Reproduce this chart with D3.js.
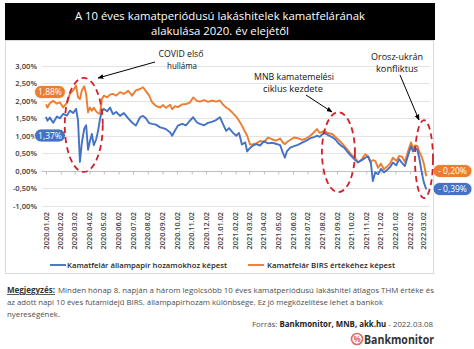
<!DOCTYPE html>
<html><head><meta charset="utf-8">
<script src="https://cdn.jsdelivr.net/npm/d3@7"></script>
<style>body{margin:0;background:#fff}svg{display:block}</style>
</head><body><svg id="c" width="474" height="349"></svg>
<script>
const dates = ["2020-01-02","2020-01-05","2020-01-10","2020-01-17","2020-01-25","2020-01-31","2020-02-07","2020-02-15","2020-02-21","2020-02-28",
"2020-03-05","2020-03-09","2020-03-13","2020-03-17","2020-03-22","2020-03-26","2020-03-30","2020-04-03","2020-04-07","2020-04-11",
"2020-04-16","2020-04-20","2020-04-24","2020-04-28","2020-05-02","2020-05-09","2020-05-15","2020-05-21","2020-05-28","2020-06-05",
"2020-06-13","2020-06-22","2020-06-30","2020-07-08","2020-07-17","2020-07-23","2020-07-29","2020-08-05","2020-08-11","2020-08-19",
"2020-08-28","2020-09-03","2020-09-09","2020-09-18","2020-09-22","2020-09-28","2020-10-04","2020-10-13","2020-10-21","2020-10-29",
"2020-11-05","2020-11-13","2020-11-19","2020-11-28","2020-12-06","2020-12-14","2020-12-23","2020-12-31","2021-01-06","2021-01-13",
"2021-01-19","2021-01-27","2021-02-03","2021-02-09","2021-02-15","2021-02-22","2021-02-26","2021-03-04","2021-03-10","2021-03-17",
"2021-03-25","2021-04-02","2021-04-11","2021-04-19","2021-04-27","2021-05-06","2021-05-12","2021-05-16","2021-05-20","2021-05-27",
"2021-06-04","2021-06-12","2021-06-21","2021-06-29","2021-07-08","2021-07-16","2021-07-22","2021-07-28","2021-08-06","2021-08-14",
"2021-08-23","2021-08-29","2021-09-04","2021-09-10","2021-09-17","2021-09-25","2021-10-03","2021-10-10","2021-10-16","2021-10-24",
"2021-10-31","2021-11-06","2021-11-12","2021-11-16","2021-11-21","2021-11-27","2021-12-03","2021-12-09","2021-12-16","2021-12-22",
"2021-12-28","2022-01-04","2022-01-10","2022-01-16","2022-01-22","2022-01-29","2022-02-04","2022-02-08","2022-02-12","2022-02-17",
"2022-02-21","2022-02-27","2022-03-03","2022-03-08"];
const blueValues = [1.54,1.43,1.52,1.37,1.55,1.50,1.63,1.58,1.72,1.65,
1.77,1.44,0.25,0.80,1.20,1.30,0.60,0.85,1.05,0.73,
0.90,1.14,1.48,1.70,1.77,1.70,1.81,1.62,1.68,1.57,
1.65,1.50,1.38,1.29,1.53,1.57,1.50,1.36,1.34,1.32,
1.24,1.22,1.19,1.09,1.00,1.15,1.29,1.34,1.30,1.43,
1.53,1.38,1.34,1.30,1.37,1.40,1.45,1.53,1.35,1.14,
1.22,1.09,1.00,1.08,0.75,0.81,0.55,0.65,0.72,0.76,
0.72,0.84,0.78,0.80,0.77,0.73,0.50,0.37,0.55,0.66,
0.70,0.74,0.80,0.85,0.93,0.96,1.00,0.97,1.09,1.02,
0.96,0.90,0.80,0.72,0.66,0.52,0.40,0.30,0.24,0.30,
0.37,0.40,0.20,-0.30,-0.05,-0.10,0.05,-0.05,0.02,0.10,
0.23,0.15,0.33,0.22,0.13,0.45,0.70,0.55,0.65,0.60,
0.37,-0.10,-0.35,-0.54];
const orangeValues = [1.90,1.81,1.93,2.00,1.92,1.96,1.81,1.95,2.20,2.30,
2.44,2.10,2.05,2.30,2.42,2.20,1.67,1.81,1.72,1.80,
1.70,1.65,1.63,2.05,2.15,2.10,2.18,2.20,2.15,2.25,
2.20,2.29,2.15,2.30,2.34,2.39,2.28,2.15,1.96,1.86,
1.81,1.88,1.80,1.89,1.76,1.85,1.82,1.90,1.91,1.95,
2.10,2.00,1.98,2.02,1.97,2.01,1.98,2.01,1.90,1.81,
1.76,1.65,1.55,1.43,1.29,1.10,1.00,0.75,0.76,0.78,
0.85,0.82,0.95,0.90,0.86,0.92,0.80,0.76,0.82,0.88,
0.95,0.93,0.88,0.92,1.00,1.10,1.19,1.08,1.14,1.08,
1.05,0.97,0.90,0.82,0.71,0.58,0.44,0.37,0.23,0.33,
0.47,0.42,0.25,0.30,0.28,0.08,0.20,0.04,0.12,0.20,
0.37,0.28,0.42,0.40,0.25,0.57,0.81,0.65,0.72,0.71,
0.55,0.37,0.18,-0.16];
const yTicks = [-1,-0.5,0,0.5,1,1.5,2,2.5,3];
const xTickLabels = ["2020.01.02","2020.02.02","2020.03.02","2020.04.02","2020.05.02","2020.06.02","2020.07.02","2020.08.02","2020.09.02",
"2020.10.02","2020.11.02","2020.12.02","2021.01.02","2021.02.02","2021.03.02","2021.04.02","2021.05.02","2021.06.02","2021.07.02",
"2021.08.02","2021.09.02","2021.10.02","2021.11.02","2021.12.02","2022.01.02","2022.02.02","2022.03.02"];
const seriesNames = ["Kamatfelár állampapír hozamokhoz képest","Kamatfelár BIRS értékéhez képest"];
const startLabels = ["1,37%","1,88%"];
const endLabels = ["- 0,39%","- 0,20%"];
const titleLines = ["A 10 éves kamatperiódusú lakáshitelek kamatfelárának","alakulása 2020. év elejétől"];

const BLUE = "#4472C4", ORANGE = "#ED7D31", RED = "#D0202A";
const svg = d3.select("#c");
const pd = d3.timeParse("%Y-%m-%d");
const pt = d3.timeParse("%Y.%m.%d");
const FONT = "'Open Sans', 'Noto Sans', sans-serif";

const x = d3.scaleTime().domain([pt("2020.01.02"), pt("2022.03.02")]).range([46, 423.5]);
const y = d3.scaleLinear().domain([-1, 3]).range([205.5, 66]);

// chart box
svg.append("rect").attr("x",5.5).attr("y",40.5).attr("width",428).attr("height",233)
  .attr("fill","#fff").attr("stroke","#d9d9d9");
// title bar
svg.append("rect").attr("x",5).attr("y",3).attr("width",430).attr("height",37).attr("fill","#000");
const tl = [[19.5, 290],[34.5, 138]];
titleLines.forEach((t,i)=>{
  svg.append("text").attr("x",220).attr("y",tl[i][0]).attr("text-anchor","middle")
    .attr("fill","#fff").attr("font-family",FONT).attr("font-size",11.5)
    .attr("textLength",tl[i][1]).attr("lengthAdjust","spacingAndGlyphs").text(t);
});

// gridlines
svg.append("g").selectAll("line").data(yTicks).join("line")
  .attr("x1",42).attr("x2",430).attr("y1",d=>Math.round(y(d))+0.5).attr("y2",d=>Math.round(y(d))+0.5)
  .attr("stroke","#e3e3e3").attr("stroke-width",1);
// y labels
svg.append("g").selectAll("text").data(yTicks).join("text")
  .attr("x",37).attr("y",d=>y(d)+3).attr("text-anchor","end")
  .attr("font-family",FONT).attr("font-size",7.6).attr("font-weight",600).attr("fill","#404040")
  .text(d=>d3.format(".2f")(d).replace(".",",").replace("−","-")+"%");

// x axis at zero
const xAxis = d3.axisBottom(x)
  .tickValues(xTickLabels.map(pt))
  .tickSize(3).tickSizeOuter(0)
  .tickFormat(d3.timeFormat("%Y.%m.%d"));
const gx = svg.append("g").attr("transform",`translate(0,${Math.round(y(0))+0.5})`).call(xAxis);
gx.select(".domain").attr("stroke","#bfbfbf").attr("d","M42,0H430");
gx.selectAll(".tick line").attr("stroke","#bfbfbf");
gx.selectAll(".tick text").remove();
// rotated x labels
svg.append("g").selectAll("text").data(xTickLabels).join("text")
  .attr("transform",d=>`translate(${x(pt(d))+2.6},212) rotate(-90)`)
  .attr("text-anchor","end").attr("font-family",FONT).attr("font-size",7.3).attr("font-weight",600)
  .attr("fill","#404040").text(d=>d);

// lines
const blueData = dates.map((d,i)=>({date:pd(d), v:blueValues[i]}));
const orangeData = dates.map((d,i)=>({date:pd(d), v:orangeValues[i]}));
const line = d3.line().x(d=>x(d.date)).y(d=>y(d.v));
svg.append("path").datum(orangeData).attr("d",line).attr("fill","none").attr("stroke",ORANGE)
  .attr("stroke-width",1.9).attr("stroke-linejoin","round");
svg.append("path").datum(blueData).attr("d",line).attr("fill","none").attr("stroke",BLUE)
  .attr("stroke-width",1.9).attr("stroke-linejoin","round");

// pills
function pill(cx, cy, w, h, color, txt){
  svg.append("rect").attr("x",cx-w/2).attr("y",cy-h/2).attr("width",w).attr("height",h)
    .attr("rx",h/2).attr("fill",color).attr("stroke","#fff").attr("stroke-width",0.8);
  svg.append("text").attr("x",cx).attr("y",cy+3).attr("text-anchor","middle")
    .attr("font-family",FONT).attr("font-size",8.5).attr("fill","#fff").text(txt);
}
pill(50, 92, 31, 13, ORANGE, startLabels[1]);
pill(50, 135.5, 31, 13, BLUE, startLabels[0]);
pill(452.5, 171, 39, 13, ORANGE, endLabels[1]);
pill(452.5, 189, 39, 13, BLUE, endLabels[0]);

// annotation ellipses (positioned through scales)
const ells = [["2020-03-21",1.31,19,47],["2021-09-05",0.53,16.5,40],["2022-03-03",0.33,9,39]];
svg.append("g").selectAll("ellipse").data(ells).join("ellipse")
  .attr("cx",d=>x(pd(d[0]))).attr("cy",d=>y(d[1])).attr("rx",d=>d[2]).attr("ry",d=>d[3])
  .attr("fill","none").attr("stroke",RED).attr("stroke-width",1.8).attr("stroke-dasharray","6,4");

// arrows
const defs = svg.append("defs");
defs.append("marker").attr("id","ah").attr("viewBox","0 0 10 10").attr("refX",9).attr("refY",5)
  .attr("markerWidth",6).attr("markerHeight",6).attr("orient","auto")
  .append("path").attr("d","M0,1L10,5L0,9z").attr("fill","#000");
const arrows = [[155,62,98,78],[306,95,332,112],[400,75,419,120]];
svg.append("g").selectAll("line").data(arrows).join("line")
  .attr("x1",d=>d[0]).attr("y1",d=>d[1]).attr("x2",d=>d[2]).attr("y2",d=>d[3])
  .attr("stroke","#000").attr("stroke-width",1).attr("marker-end","url(#ah)");

// annotation texts
const notes = [["COVID első",181,57,45],["hulláma",182,69,30],["MNB kamatemelési",294,80,80],["ciklus kezdete",293,92,60],
  ["Orosz-ukrán",397,60,52],["konfliktus",397,72,42]];
svg.append("g").selectAll("text").data(notes).join("text")
  .attr("x",d=>d[1]).attr("y",d=>d[2]).attr("text-anchor","middle").attr("font-family",FONT)
  .attr("font-size",8.6).attr("fill","#111").attr("textLength",d=>d[3]).attr("lengthAdjust","spacingAndGlyphs")
  .text(d=>d[0]);

// legend
const leg = [[50,67,160,BLUE],[248,267,128,ORANGE]];
leg.forEach((l,i)=>{
  svg.append("line").attr("x1",l[0]).attr("x2",l[0]+16).attr("y1",265).attr("y2",265)
    .attr("stroke",l[3]).attr("stroke-width",1.9);
  svg.append("text").attr("x",l[1]).attr("y",268).attr("font-family",FONT).attr("font-size",7.6)
    .attr("font-weight",600).attr("fill","#262626").attr("textLength",l[2]).attr("lengthAdjust","spacingAndGlyphs")
    .text(seriesNames[i]);
});

// footnote
const fn = svg.append("g").attr("font-family",FONT).attr("font-size",8).attr("fill","#4d4d4d");
fn.append("text").attr("x",7).attr("y",293).attr("font-weight",700).attr("fill","#333")
  .attr("text-decoration","underline").attr("textLength",48).attr("lengthAdjust","spacingAndGlyphs").text("Megjegyzés:");
fn.append("text").attr("x",58).attr("y",293).attr("textLength",376).attr("lengthAdjust","spacingAndGlyphs")
  .text("Minden hónap 8. napján a három legolcsóbb 10 éves kamatperiódusú lakáshitel átlagos THM értéke és");
fn.append("text").attr("x",7).attr("y",305).attr("textLength",376).attr("lengthAdjust","spacingAndGlyphs")
  .text("az adott napi 10 éves futamidejű BIRS. állampapírhozam különbsége. Ez jó megközelítése lehet a bankok");
fn.append("text").attr("x",7).attr("y",317).attr("textLength",53).attr("lengthAdjust","spacingAndGlyphs")
  .text("nyereségének.");
const src = fn.append("text").attr("x",433).attr("y",327).attr("text-anchor","end")
  .attr("textLength",181).attr("lengthAdjust","spacingAndGlyphs");
src.append("tspan").text("Forrás: ");
src.append("tspan").attr("font-weight",700).attr("fill","#222").text("Bankmonitor, MNB, akk.hu");
src.append("tspan").text(" - 2022.03.08");

// logo
svg.append("circle").attr("cx",357).attr("cy",339).attr("r",5.5).attr("fill","#fff").attr("stroke","#E26A5F").attr("stroke-width",1.6);
svg.append("text").attr("x",357).attr("y",342).attr("text-anchor","middle").attr("font-family",FONT)
  .attr("font-size",8).attr("font-weight",700).attr("fill","#E26A5F").text("%");
svg.append("text").attr("x",364).attr("y",344).attr("font-family",FONT).attr("font-size",12.5)
  .attr("font-weight",700).attr("fill","#333").attr("textLength",70).attr("lengthAdjust","spacingAndGlyphs").text("Bankmonitor");
</script>
</body></html>
